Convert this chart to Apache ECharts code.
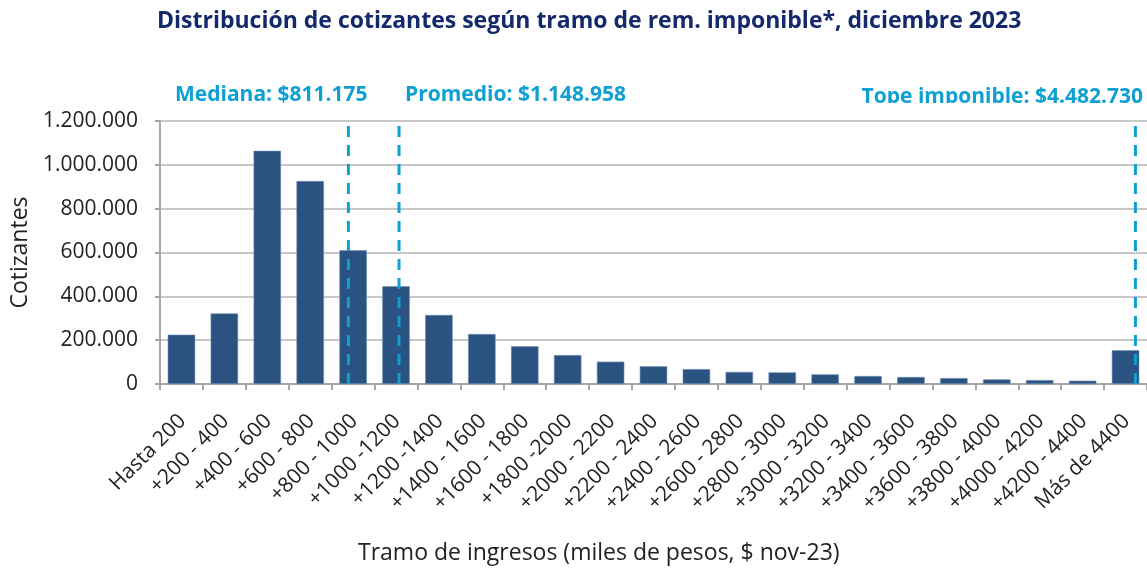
<!DOCTYPE html>
<html>
<head>
<meta charset="utf-8">
<script src="https://cdn.jsdelivr.net/npm/echarts@6/dist/echarts.min.js"></script>
<style>
  html, body { margin: 0; padding: 0; background: #fff; }
  #box1 { width: 1147px; height: 571px; }
</style>
</head>
<body>
<div id="box1"></div>
<script>
var tramos = ['Hasta 200', '+200 - 400', '+400 - 600', '+600 - 800', '+800 - 1000', '+1000 -1200',
  '+1200 -1400', '+1400 - 1600', '+1600 - 1800', '+1800 -2000', '+2000 - 2200', '+2200 - 2400',
  '+2400 - 2600', '+2600 - 2800', '+2800 - 3000', '+3000 - 3200', '+3200 - 3400', '+3400 - 3600',
  '+3600 - 3800', '+3800 - 4000', '+4000 - 4200', '+4200 - 4400', 'Más de 4400'];
var cotizantes = [225000, 322000, 1064000, 926000, 610000, 446000, 315000, 228000, 172000, 132000,
  102000, 81000, 68000, 55000, 53000, 44000, 36500, 32000, 27000, 21000, 18000, 15000, 154000];
var yTicks = [0, 200000, 400000, 600000, 800000, 1000000, 1200000];
// posiciones de las líneas de referencia, en unidades de tramo (0 = inicio del eje)
var refNames = ['Mediana: $811.175', 'Promedio: $1.148.958', 'Tope imponible: $4.482.730'];
var refPos = [4.39, 5.57, 22.73];

function miles(v) {
  return String(v).replace(/\B(?=(\d{3})+(?!\d))/g, '.');
}

var myChart1 = echarts.init(document.getElementById('box1'));
var font = "'Open Sans', sans-serif";
var celeste = '#0ea0d2';
var labelFont = "bold 21px 'Open Sans', sans-serif";

var refSeries = refPos.map(function (p, i) {
  return {
    name: refNames[i],
    type: 'line',
    xAxisIndex: 1,
    symbol: 'none',
    silent: true,
    z: 5,
    lineStyle: { color: celeste, width: 3, type: [11, 8] },
    data: [[p, yTicks[0]], [p, yTicks[yTicks.length - 1]]]
  };
});

var option = {
  backgroundColor: '#fff',
  animation: false,
  title: {
    text: 'Distribución de cotizantes según tramo de rem. imponible*, diciembre 2023',
    left: 152,
    top: 5,
    textStyle: { color: '#13296b', fontFamily: font, fontSize: 23, fontWeight: 'bold' }
  },
  grid: { left: 160, right: 0, top: 121, bottom: 187, outerBoundsMode: 'none' },
  xAxis: [{
    type: 'category',
    data: tramos,
    axisLine: { lineStyle: { color: '#a6a6a6', width: 2 } },
    axisTick: { show: true, length: 6, lineStyle: { color: '#a6a6a6', width: 2 } },
    axisLabel: { rotate: 45, interval: 0, margin: 20, verticalAlign: 'top', padding: [0, 9, 0, 0],
      color: '#222', fontFamily: font, fontSize: 21 }
  }, {
    type: 'value',
    min: 0,
    max: tramos.length,
    show: false
  }],
  yAxis: {
    type: 'value',
    min: yTicks[0],
    max: yTicks[yTicks.length - 1],
    interval: 200000,
    name: 'Cotizantes',
    nameLocation: 'middle',
    nameGap: 127,
    nameRotate: 90,
    nameTextStyle: { color: '#222', fontFamily: font, fontSize: 23 },
    axisLine: { show: true, lineStyle: { color: '#a6a6a6', width: 2 } },
    axisTick: { show: true, length: 5, lineStyle: { color: '#a6a6a6', width: 2 } },
    splitLine: { show: true, lineStyle: { color: '#c8c8c8', width: 2 } },
    axisLabel: { color: '#222', fontFamily: font, fontSize: 21, margin: 22, formatter: miles }
  },
  graphic: [
    { type: 'text', left: 175, top: 85, z: 10, style: { text: refNames[0], fill: celeste, font: labelFont } },
    { type: 'text', left: 405, top: 85, z: 10, style: { text: refNames[1], fill: celeste, font: labelFont } },
    { type: 'text', right: 4, top: 87, z: 10, style: { text: refNames[2], fill: celeste, font: labelFont } },
    // las etiquetas aparecen recortadas por abajo en el original
    { type: 'rect', left: 170, top: 105, z: 11, shape: { width: 200, height: 12 }, style: { fill: '#fff' } },
    { type: 'rect', left: 400, top: 101, z: 11, shape: { width: 240, height: 16 }, style: { fill: '#fff' } },
    { type: 'rect', left: 860, top: 103, z: 11, shape: { width: 287, height: 14 }, style: { fill: '#fff' } },
    { type: 'text', left: 358, top: 542, z: 10,
      style: { text: 'Tramo de ingresos (miles de pesos, $ nov-23)', fill: '#222', font: "23px 'Open Sans', sans-serif" } }
  ],
  series: [{
    name: 'Cotizantes',
    type: 'bar',
    barCategoryGap: '36%',
    itemStyle: { color: '#2a5381', borderColor: '#6f8fb3', borderWidth: 0.6 },
    data: cotizantes
  }].concat(refSeries)
};

myChart1.setOption(option);
</script>
</body>
</html>
